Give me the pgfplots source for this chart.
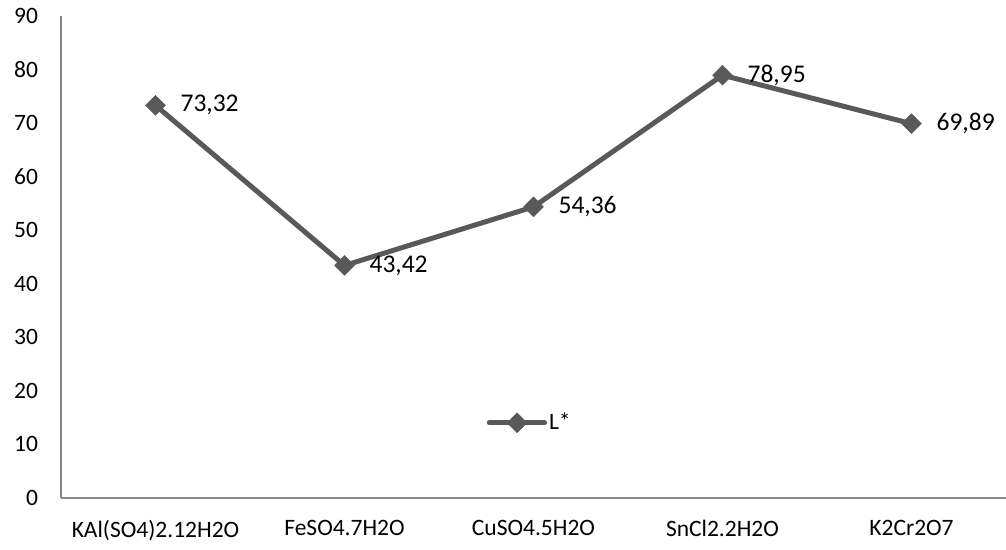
\documentclass[border=0pt]{standalone}
\usepackage{fontspec}
\setmainfont{Carlito}
\usepackage{pgfplots}
\pgfplotsset{compat=1.18}
\definecolor{linegray}{HTML}{595959}
\definecolor{axisgray}{HTML}{878787}
\begin{document}
\fontsize{23.5bp}{28bp}\selectfont
\begin{tikzpicture}
\path[use as bounding box] (0,0) rectangle (1006bp,550bp);
\begin{axis}[
    at={(61bp,52bp)}, anchor=south west,
    scale only axis,
    width=945bp, height=482bp,
    xmin=-0.5, xmax=4.5,
    ymin=0, ymax=90,
    ytick={0,10,...,90},
    xtick={0,1,2,3,4},
    xticklabels={KAl(SO4)2.12H2O,FeSO4.7H2O,CuSO4.5H2O,SnCl2.2H2O,K2Cr2O7},
    axis lines=left,
    axis line style={axisgray, line width=1.3bp, -},
    major tick length=0pt,
    tick label style={font=\fontsize{23.5bp}{28bp}\selectfont},
    /pgf/number format/assume math mode=true,
    yticklabel style={xshift=-15bp},
    xticklabel style={yshift=-14bp},
    legend style={at={(0.496,0.156)}, anchor=center, draw=none, fill=none,
        font=\fontsize{23.5bp}{28bp}\selectfont},
    legend image code/.code={
        \draw[#1, line cap=round] (-0.2cm,0cm) -- (1.75cm,0cm);
        \draw[#1] plot coordinates {(0.78cm,0cm)};
    },
    nodes near coords,
    nodes near coords style={anchor=west, xshift=17bp, black,
        font=\fontsize{25.5bp}{30bp}\selectfont,
        /pgf/number format/.cd, fixed, fixed zerofill, precision=2, use comma, assume math mode=true},
]
\addplot[color=linegray, line width=5bp, mark=square*,
    mark options={rotate=45, line width=0.5bp, fill=linegray}, mark size=7bp]
    coordinates {(0,73.32) (1,43.42) (2,54.36) (3,78.95) (4,69.89)};
\addlegendentry{L*}
\end{axis}
\end{tikzpicture}
\end{document}
